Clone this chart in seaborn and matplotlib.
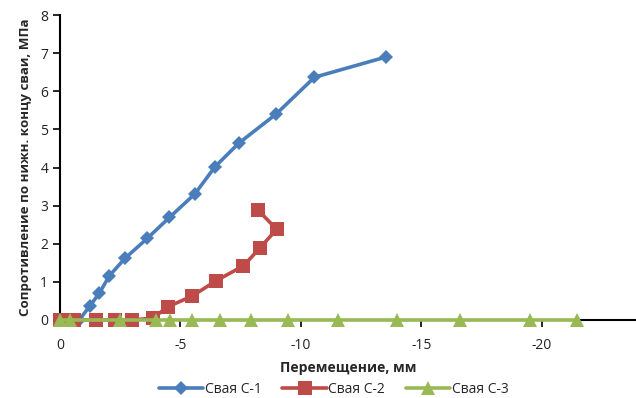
import matplotlib
matplotlib.use("Agg")
import matplotlib.pyplot as plt
import seaborn as sns
import pandas as pd

# Load test data: displacement (mm) vs. toe resistance (MPa)
c1_x = [0, -0.8, -1.24, -1.63, -2.05, -2.70, -3.62, -4.54, -5.60, -6.43, -7.42, -8.98, -10.56, -13.52]
c1_y = [0, 0.0, 0.37, 0.70, 1.16, 1.62, 2.14, 2.69, 3.31, 4.02, 4.64, 5.41, 6.37, 6.90]

c2_x = [0, -0.6, -1.5, -2.3, -3.0, -3.85, -4.49, -5.49, -6.48, -7.61, -8.28, -8.99, -8.21]
c2_y = [0, 0, 0, 0, 0, 0.05, 0.35, 0.63, 1.03, 1.42, 1.88, 2.38, 2.89]

c3_x = [0, -0.41, -2.48, -3.97, -4.58, -5.49, -6.62, -7.93, -9.45, -11.55, -14.0, -16.6, -19.5, -21.45]
c3_y = [0] * 14

series_names = ["Свая С-1", "Свая С-2", "Свая С-3"]
colors = ["#4A7EBB", "#BE4B48", "#98B954"]
markers = ["D", "s", "^"]
marker_sizes = [7, 10, 10]

x_ticks = [0, -5, -10, -15, -20]
y_ticks = [0, 1, 2, 3, 4, 5, 6, 7, 8]

sns.set_theme(style="white")
plt.rcParams["font.family"] = ["Open Sans", "DejaVu Sans"]

fig = plt.figure(figsize=(6.36, 3.98), dpi=100)
ax = fig.add_axes([0.0943, 0.196, 0.9057, 0.766])

frames = []
for name, xs, ys in zip(series_names, [c1_x, c2_x, c3_x], [c1_y, c2_y, c3_y]):
    frames.append(pd.DataFrame({"x": xs, "y": ys, "series": name}))

# Series are stacked in order: each later pile is drawn over the earlier ones
for i, d in enumerate(frames):
    sns.lineplot(data=d, x="x", y="y", sort=False, estimator=None, ax=ax,
                 color=colors[i], linewidth=2.6, marker=markers[i],
                 markersize=marker_sizes[i], markeredgewidth=0,
                 label=series_names[i], zorder=3 + i, clip_on=False)

ax.set_xlim(0, -23.9)
ax.set_ylim(0, 8)
ax.set_xticks(x_ticks)
ax.set_yticks(y_ticks)
ax.set_xticklabels([str(t) for t in x_ticks], fontsize=10)
ax.set_yticklabels([str(t) for t in y_ticks], fontsize=10)
ax.tick_params(axis="both", direction="out", length=5, width=1.2, color="black",
               bottom=True, left=True, labelcolor="#222222")
ax.tick_params(axis="x", pad=8)

for side in ["top", "right"]:
    ax.spines[side].set_visible(False)
for side in ["left", "bottom"]:
    ax.spines[side].set_color("black")
    ax.spines[side].set_linewidth(1.5)
    ax.spines[side].set_zorder(1)

ax.set_xlabel("Перемещение, мм", fontsize=10, fontweight="bold", labelpad=6)
ax.set_ylabel("Сопротивление по нижн. концу сваи, МПа", fontsize=9.6,
              fontweight="bold", labelpad=6)

ax.legend(loc="lower center", bbox_to_anchor=(0.475, -0.27), ncol=3,
          frameon=False, fontsize=10, handlelength=3.2, columnspacing=1.5,
          handletextpad=0.1, borderaxespad=0)

fig.savefig("out.png", dpi=100)
